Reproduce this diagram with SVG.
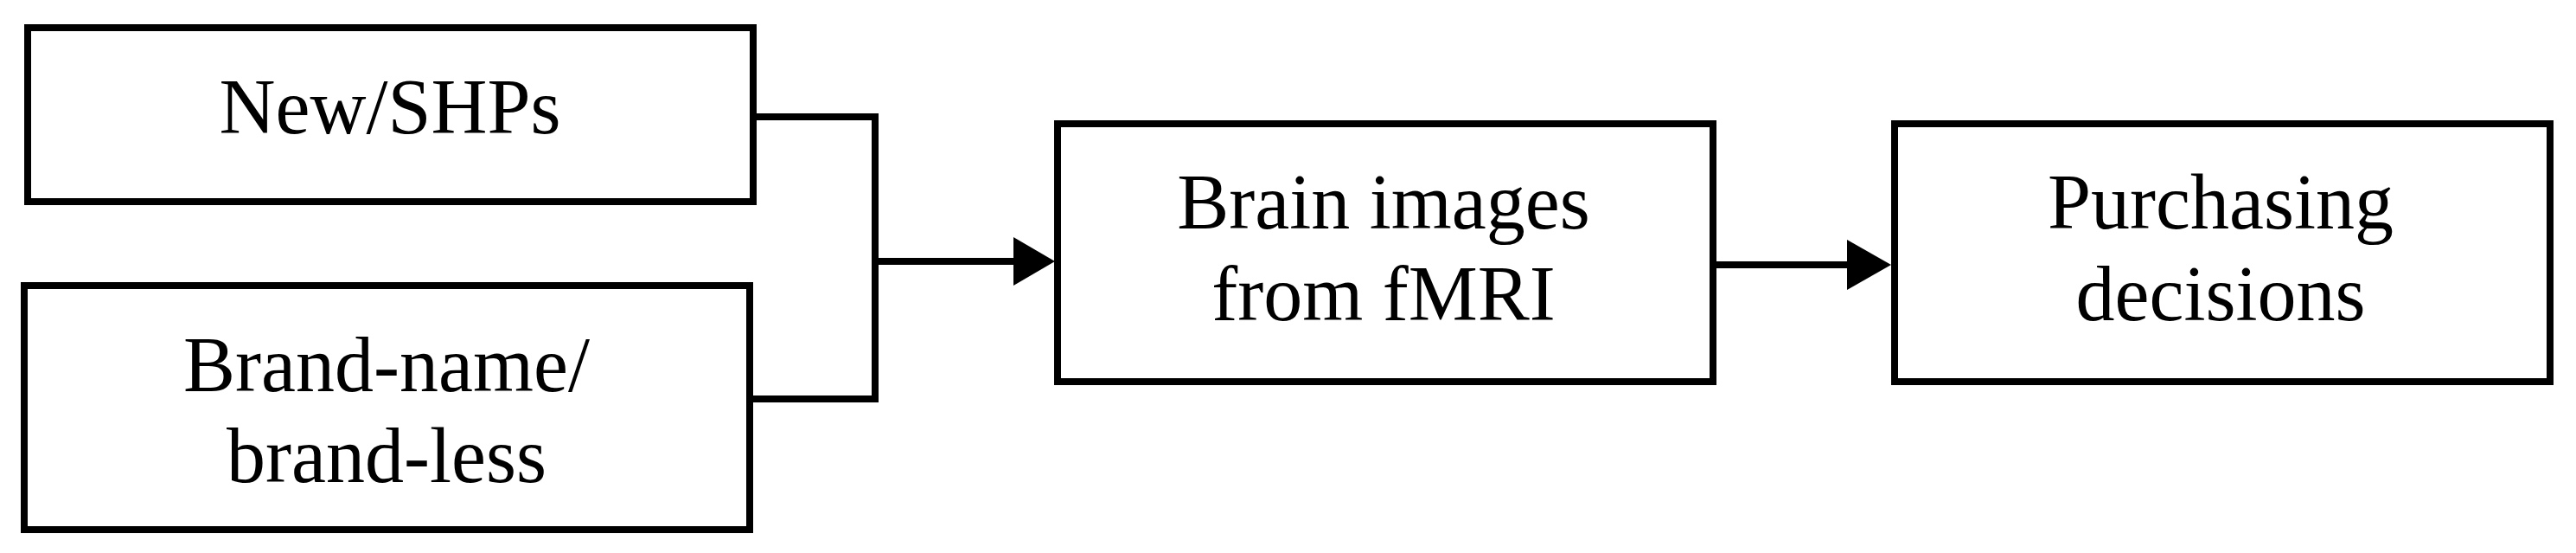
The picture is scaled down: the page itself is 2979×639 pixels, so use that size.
<svg xmlns="http://www.w3.org/2000/svg" width="2979" height="639" viewBox="0 0 2979 639">
<style>
.box{fill:#fff;stroke:#000;stroke-width:8}
.lbl{font-family:"Liberation Serif","Times New Roman",serif;font-size:90px;fill:#000;text-anchor:middle}
.wire{fill:none;stroke:#000;stroke-width:8}
.head{fill:#000}
</style>
<rect width="2979" height="639" fill="#fff"/>
<g id="node-new-shps">
<rect class="box" x="32" y="32" width="839" height="201"/>
<text class="lbl" x="451" y="154">New/SHPs</text>
</g>
<g id="node-brand">
<rect class="box" x="28" y="330" width="839" height="282"/>
<text class="lbl" x="447" y="452">Brand-name/</text>
<text class="lbl" x="447" y="557">brand-less</text>
</g>
<g id="node-brain">
<rect class="box" x="1223" y="143" width="758" height="298"/>
<text class="lbl" x="1600" y="264">Brain images</text>
<text class="lbl" x="1600" y="370">from fMRI</text>
</g>
<g id="node-purchasing">
<rect class="box" x="2191" y="143" width="758" height="298"/>
<text class="lbl" x="2568" y="264">Purchasing</text>
<text class="lbl" x="2568" y="370">decisions</text>
</g>
<g id="connectors">
<path class="wire" d="M871,135 H1012 V461 H867"/>
<path class="wire" d="M1012,302 H1175"/>
<polygon class="head" points="1172,274 1220,302 1172,330"/>
<path class="wire" d="M1981,306 H2138"/>
<polygon class="head" points="2136,277 2187,306 2136,335"/>
</g>
</svg>
